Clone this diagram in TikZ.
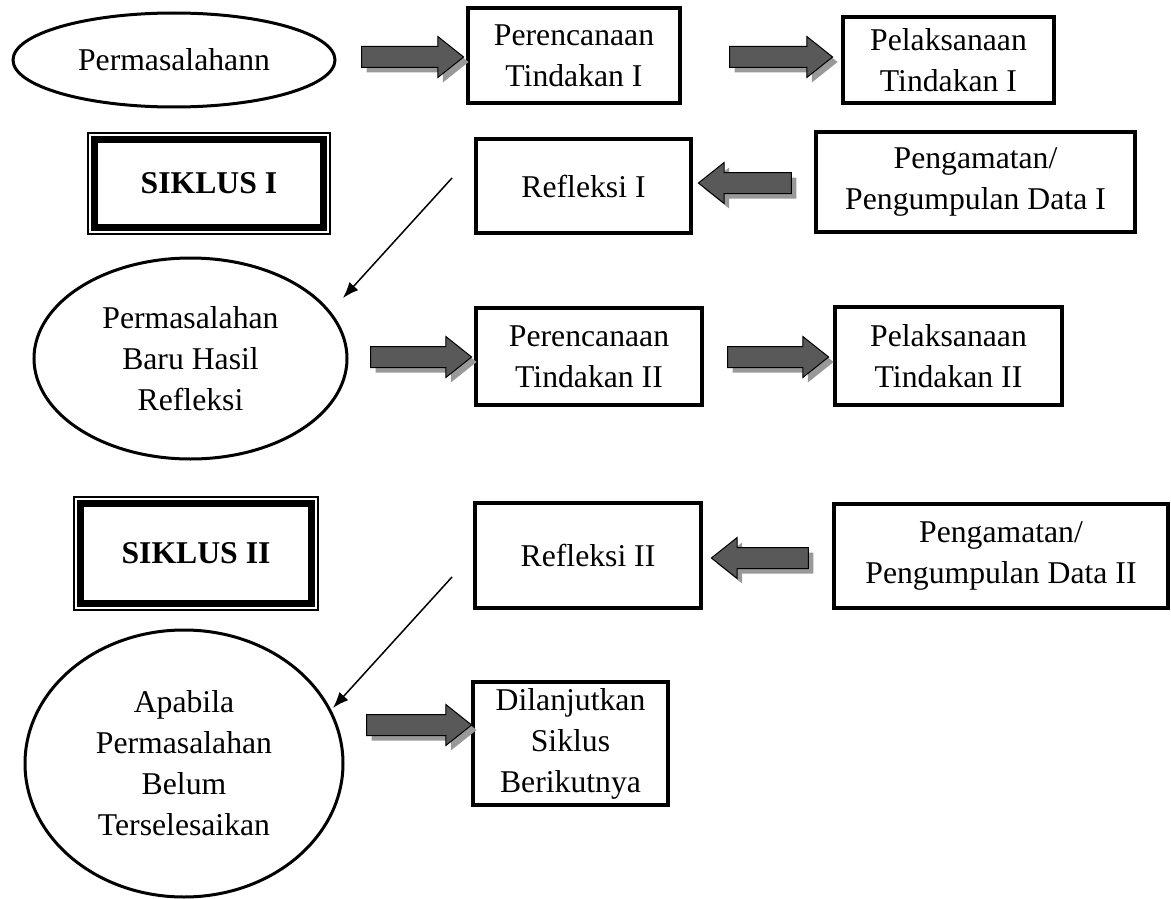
\documentclass[tikz,border=0pt]{standalone}
\usepackage{fontspec}
\setmainfont{Liberation Serif}
\usetikzlibrary{shapes.geometric,shapes.arrows,shadows,arrows.meta}
\begin{document}
\begin{tikzpicture}[x=1pt,y=-1pt,
  every node/.style={font=\fontsize{31.7}{41}\selectfont, align=center, inner sep=0pt},
  boxnode/.style={draw, line width=3.5pt, rectangle},
  ellnode/.style={draw, line width=3pt, ellipse},
  cyclebox/.style={draw, line width=1.5pt, rectangle, font=\fontsize{31.7}{41}\selectfont\bfseries},
  barrow/.style={single arrow, draw=black, line width=1pt, fill=black!65,
    single arrow head extend=10pt, single arrow tip angle=77,
    inner xsep=0pt, inner ysep=10pt,
    drop shadow={shadow xshift=5pt, shadow yshift=-5pt, fill=black!40, opacity=1}},
  larrow/.style={barrow, shape border rotate=180},
  thinarrow/.style={line width=1.5pt, -{Latex[length=16pt,width=12pt]}}]

\useasboundingbox (0,0) rectangle (1171,899);

% Row 1
\node[ellnode, minimum width=322, minimum height=94] (p1) at (174,60) {Permasalahann};
\node[boxnode, minimum width=212, minimum height=95] (per1) at (574,55.5) {Perencanaan\\Tindakan I};
\node[boxnode, minimum width=211, minimum height=86] (pel1) at (948.5,60) {Pelaksanaan\\Tindakan I};

% Row 2
\node[cyclebox, minimum width=242, minimum height=101] (s1) at (209,183.5) {SIKLUS I};
\node[boxnode, minimum width=215, minimum height=94] (ref1) at (583.5,186) {Refleksi I};
\node[boxnode, minimum width=319, minimum height=100] (pen1) at (975.5,182) {Pengamatan/\\Pengumpulan Data I};

% Row 3
\node[ellnode, minimum width=313, minimum height=201] (p2) at (190.5,358.5) {Permasalahan\\Baru Hasil\\Refleksi};
\node[boxnode, minimum width=226, minimum height=97] (per2) at (589,356.5) {Perencanaan\\Tindakan II};
\node[boxnode, minimum width=227, minimum height=98] (pel2) at (948.5,356) {Pelaksanaan\\Tindakan II};

% Row 4
\node[cyclebox, minimum width=244, minimum height=113] (s2) at (196,553.5) {SIKLUS II};
\node[boxnode, minimum width=226, minimum height=105] (ref2) at (588,555.5) {Refleksi II};
\node[boxnode, minimum width=334, minimum height=104] (pen2) at (1001,556) {Pengamatan/\\Pengumpulan Data II};

% Row 5
\node[ellnode, minimum width=318, minimum height=267] (p3) at (184,763.5) {Apabila\\Permasalahan\\Belum\\Terselesaikan};
\node[boxnode, minimum width=195, minimum height=123] (dil) at (570.5,743.5) {Dilanjutkan\\Siklus\\Berikutnya};

% double borders of the cycle boxes
\foreach \n in {s1,s2}{
  \draw[line width=7pt] ([shift={(7pt,-7pt)}]\n.north west) rectangle ([shift={(-7pt,7pt)}]\n.south east);
}

% block arrows
\node[barrow, minimum height=102] (a1) at (406,57) {};
\node[barrow, minimum height=103] (a2) at (774.5,57) {};
\node[larrow, minimum height=93] (a3) at (751.5,183) {};
\node[barrow, minimum height=101] (a4) at (414.5,357) {};
\node[barrow, minimum height=101] (a5) at (771.5,357) {};
\node[larrow, minimum height=97] (a6) at (766.5,558) {};
\node[barrow, minimum height=105] (a7) at (412.5,725) {};

% thin arrows
\coordinate (l1s) at (452,178);
\coordinate (l1e) at (343,298);
\coordinate (l2s) at (452,577);
\coordinate (l2e) at (333,708);
\draw[thinarrow] (l1s) -- (l1e);
\draw[thinarrow] (l2s) -- (l2e);
\end{tikzpicture}
\end{document}
